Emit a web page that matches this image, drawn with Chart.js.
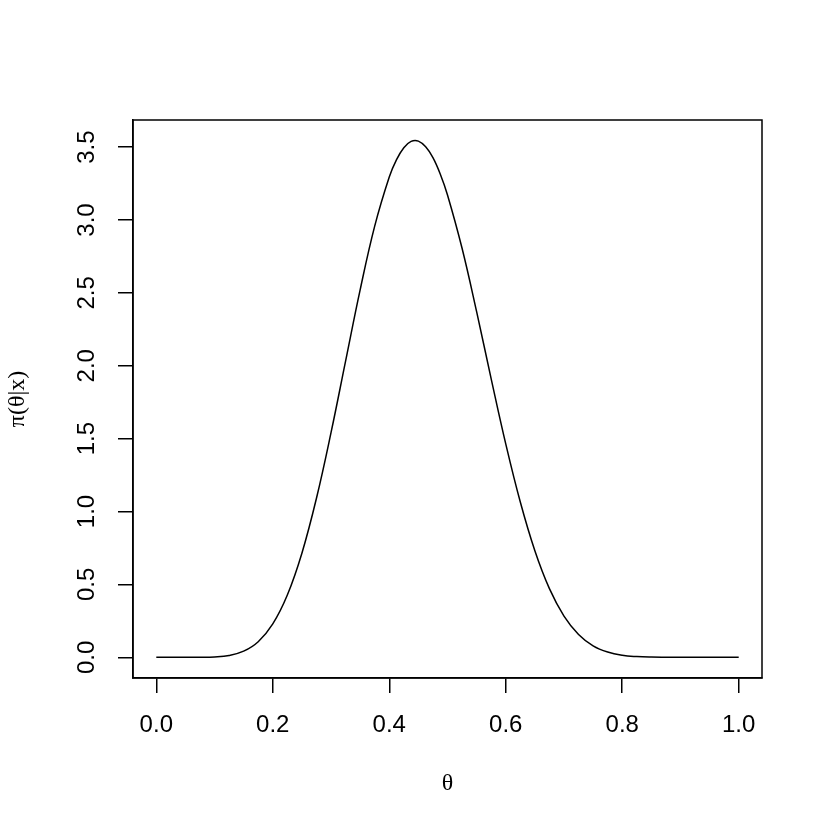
<!DOCTYPE html>
<html>
<head>
<meta charset="utf-8">
<script src="https://cdn.jsdelivr.net/npm/chart.js@4/dist/chart.umd.min.js"></script>
<style>
  html, body { margin: 0; padding: 0; background: #fff; }
  #wrap { width: 830px; height: 830px; }
</style>
</head>
<body>
<div id="wrap"><canvas id="c" width="830" height="830"></canvas></div>
<script>
// Values
const THETA = [0, 0.025, 0.05, 0.075, 0.1, 0.125, 0.15, 0.175, 0.2, 0.225, 0.25, 0.275, 0.3, 0.325, 0.35, 0.375, 0.4, 0.4125, 0.425, 0.4375, 0.45, 0.4625, 0.475, 0.4875, 0.5, 0.525, 0.55, 0.575, 0.6, 0.625, 0.65, 0.675, 0.7, 0.725, 0.75, 0.775, 0.8, 0.825, 0.85, 0.875, 0.9, 0.925, 0.95, 0.975, 1];
const DENSITY = [0, 0, 0.00002, 0.0004, 0.0029, 0.013, 0.042, 0.107, 0.229, 0.427, 0.714, 1.091, 1.541, 2.032, 2.521, 2.958, 3.295, 3.414, 3.496, 3.539, 3.541, 3.502, 3.428, 3.316, 3.172, 2.806, 2.371, 1.910, 1.464, 1.065, 0.731, 0.471, 0.283, 0.157, 0.079, 0.036, 0.014, 0.005, 0.0013, 0.0003, 0.00004, 0, 0, 0, 0];
const X_TICKS = [0, 0.2, 0.4, 0.6, 0.8, 1.0];
const Y_TICKS = [0, 0.5, 1.0, 1.5, 2.0, 2.5, 3.0, 3.5];
const X_TITLE = 'θ';
const Y_TITLE = 'π(θ|x)';

const points = THETA.map((t, i) => ({ x: t, y: DENSITY[i] }));
const SANS = '"Liberation Sans", Arial, Helvetica, sans-serif';
const SERIF = '"Liberation Serif", "Times New Roman", serif';

const rPlot = {
  id: 'rplot',
  afterDraw(chart) {
    const { ctx, chartArea: a, scales: { y } } = chart;
    ctx.save();
    ctx.strokeStyle = '#000';
    ctx.lineWidth = 1.5;
    ctx.strokeRect(a.left, a.top, a.right - a.left, a.bottom - a.top);
    ctx.font = '24px ' + SANS;
    ctx.fillStyle = '#000';
    ctx.textAlign = 'center';
    ctx.textBaseline = 'alphabetic';
    y.ticks.forEach(t => {
      const py = y.getPixelForValue(t.value);
      ctx.save();
      ctx.translate(a.left - 39, py);
      ctx.rotate(-Math.PI / 2);
      ctx.fillText(t.label, 0, 0);
      ctx.restore();
    });
    ctx.restore();
  }
};

new Chart(document.getElementById('c'), {
  type: 'line',
  data: {
    datasets: [{
      data: points,
      borderColor: '#000',
      borderWidth: 1.5,
      pointRadius: 0,
      fill: false,
      tension: 0.4
    }]
  },
  options: {
    responsive: false,
    animation: false,
    devicePixelRatio: 1,
    layout: { padding: { top: 120, right: 68, left: 0, bottom: 0 } },
    plugins: { legend: { display: false }, tooltip: { enabled: false } },
    scales: {
      x: {
        type: 'linear',
        min: -0.04,
        max: 1.04,
        afterBuildTicks: s => { s.ticks = X_TICKS.map(v => ({ value: v })); },
        afterFit: s => { s.height = 152; },
        grid: { drawOnChartArea: false, drawTicks: true, tickLength: 15, color: '#000', lineWidth: 1.5 },
        border: { display: true, color: '#000', width: 1.5 },
        ticks: {
          color: '#000',
          padding: 18,
          maxRotation: 0,
          font: { family: SANS, size: 24 },
          callback: v => Number(v).toFixed(1)
        },
        title: {
          display: true,
          text: X_TITLE,
          color: '#000',
          font: { family: SERIF, size: 24 },
          padding: { top: 0, bottom: 32 }
        }
      },
      y: {
        type: 'linear',
        min: -0.142,
        max: 3.686,
        afterBuildTicks: s => { s.ticks = Y_TICKS.map(v => ({ value: v })); },
        afterFit: s => { s.width = 133; },
        grid: { drawOnChartArea: false, drawTicks: true, tickLength: 15, color: '#000', lineWidth: 1.5 },
        border: { display: true, color: '#000', width: 1.5 },
        ticks: {
          color: 'rgba(0,0,0,0)',
          font: { family: SANS, size: 24 },
          callback: v => Number(v).toFixed(1)
        },
        title: {
          display: true,
          text: Y_TITLE,
          color: '#000',
          font: { family: SERIF, size: 24 },
          padding: { top: 3, bottom: 0 }
        }
      }
    }
  },
  plugins: [rPlot]
});
</script>
</body>
</html>
